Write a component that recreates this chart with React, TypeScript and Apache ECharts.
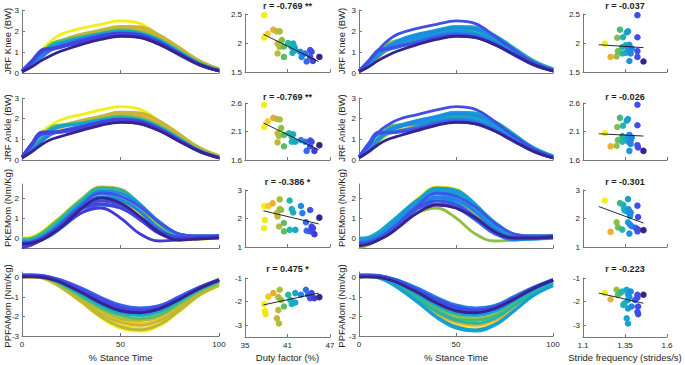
import React, { useEffect, useRef } from "react";
import * as echarts from "echarts";

// ---------- DATA ----------
const stance = [0, 5, 10, 15, 20, 30, 40, 50, 60, 70, 80, 90, 100];

// JRF Knee curves (BW) sampled at stance %
const kneeCurves = [
  [0.1, 0.55, 1.1, 1.55, 1.85, 2.12, 2.32, 2.48, 2.35, 1.75, 1.1, 0.5, 0.15],
  [0.1, 0.4, 0.8, 1.2, 1.45, 1.75, 2.0, 2.2, 2.15, 1.75, 1.15, 0.55, 0.2],
  [0.1, 0.45, 0.9, 1.3, 1.5, 1.8, 2.05, 2.22, 2.2, 1.8, 1.2, 0.6, 0.2],
  [0.1, 0.4, 0.85, 1.25, 1.55, 1.85, 2.0, 2.15, 2.05, 1.65, 1.05, 0.5, 0.15],
  [0.1, 0.4, 0.8, 1.15, 1.45, 1.75, 1.95, 2.1, 2.05, 1.7, 1.15, 0.55, 0.2],
  [0.1, 0.45, 0.85, 1.25, 1.5, 1.8, 2.0, 2.15, 2.1, 1.72, 1.1, 0.5, 0.15],
  [0.1, 0.45, 0.95, 1.4, 1.55, 1.72, 1.9, 2.05, 1.95, 1.6, 1.05, 0.5, 0.15],
  [0.1, 0.4, 0.85, 1.25, 1.45, 1.7, 1.88, 2.0, 1.9, 1.55, 1.0, 0.45, 0.15],
  [0.1, 0.4, 0.85, 1.3, 1.45, 1.65, 1.85, 1.98, 1.88, 1.52, 0.98, 0.45, 0.12],
  [0.1, 0.35, 0.75, 1.1, 1.35, 1.6, 1.8, 1.92, 1.85, 1.5, 0.95, 0.42, 0.12],
  [0.1, 0.6, 1.1, 1.2, 1.3, 1.5, 1.72, 1.85, 1.75, 1.4, 0.9, 0.4, 0.1],
  [0.1, 0.55, 1.05, 1.15, 1.25, 1.45, 1.68, 1.8, 1.7, 1.35, 0.85, 0.38, 0.1],
  [0.1, 0.5, 0.95, 1.1, 1.22, 1.48, 1.7, 1.85, 1.78, 1.42, 0.9, 0.4, 0.1],
  [0.1, 0.55, 1.1, 1.18, 1.25, 1.5, 1.75, 1.88, 1.8, 1.45, 0.92, 0.42, 0.12],
  [0.05, 0.3, 0.6, 0.85, 1.05, 1.35, 1.6, 1.75, 1.68, 1.35, 0.88, 0.4, 0.1],
  [0.1, 0.5, 1.0, 1.15, 1.28, 1.55, 1.78, 1.9, 1.82, 1.45, 0.92, 0.42, 0.1],
];
const kneeCurveDuty = [37.7, 39.0, 39.5, 39.6, 37.8, 38.2, 40.5, 41.6, 42.3, 43.2, 43.0, 44.2, 43.7, 44.6, 45.5, 44.4];
const kneeCurveStride = [1.424, 1.36, 1.338, 1.37, 1.32, 1.384, 1.3, 1.354, 1.376, 1.264, 1.41, 1.424, 1.368, 1.39, 1.46, 1.348];

// JRF Ankle curves (BW)
const ankleCurves = [
  [0.15, 0.7, 1.35, 1.7, 1.95, 2.2, 2.42, 2.58, 2.45, 1.85, 1.15, 0.55, 0.15],
  [0.15, 0.5, 0.95, 1.4, 1.6, 1.85, 2.1, 2.3, 2.25, 1.85, 1.2, 0.6, 0.2],
  [0.15, 0.55, 1.05, 1.45, 1.62, 1.9, 2.12, 2.32, 2.28, 1.88, 1.25, 0.6, 0.2],
  [0.15, 0.5, 1.0, 1.4, 1.65, 1.92, 2.08, 2.2, 2.1, 1.7, 1.1, 0.5, 0.15],
  [0.15, 0.5, 0.95, 1.3, 1.55, 1.82, 2.02, 2.18, 2.12, 1.75, 1.18, 0.55, 0.2],
  [0.15, 0.55, 1.0, 1.4, 1.6, 1.88, 2.08, 2.25, 2.18, 1.78, 1.15, 0.52, 0.15],
  [0.15, 0.55, 1.1, 1.6, 1.7, 1.8, 1.98, 2.12, 2.0, 1.62, 1.05, 0.5, 0.15],
  [0.15, 0.5, 1.0, 1.5, 1.68, 1.78, 1.95, 2.05, 1.95, 1.58, 1.02, 0.45, 0.15],
  [0.15, 0.5, 1.0, 1.45, 1.62, 1.75, 1.92, 2.02, 1.92, 1.55, 1.0, 0.45, 0.12],
  [0.15, 0.45, 0.9, 1.25, 1.42, 1.65, 1.85, 1.98, 1.9, 1.52, 0.98, 0.42, 0.12],
  [0.15, 0.8, 1.35, 1.35, 1.38, 1.55, 1.78, 1.9, 1.8, 1.45, 0.95, 0.45, 0.12],
  [0.15, 0.75, 1.3, 1.32, 1.35, 1.5, 1.72, 1.85, 1.75, 1.4, 0.9, 0.4, 0.1],
  [0.15, 0.7, 1.25, 1.3, 1.35, 1.55, 1.78, 1.92, 1.82, 1.45, 0.92, 0.42, 0.1],
  [0.15, 0.8, 1.35, 1.36, 1.4, 1.58, 1.82, 1.95, 1.85, 1.48, 0.95, 0.44, 0.12],
  [0.1, 0.4, 0.75, 1.0, 1.15, 1.42, 1.68, 1.82, 1.75, 1.4, 0.9, 0.42, 0.1],
  [0.15, 0.7, 1.25, 1.3, 1.38, 1.6, 1.85, 1.97, 1.88, 1.5, 0.95, 0.44, 0.1],
];
const ankleCurveDuty = [37.7, 39.0, 39.5, 39.6, 37.8, 38.2, 40.5, 41.6, 42.3, 43.2, 43.0, 44.2, 43.7, 44.6, 45.5, 44.4];
const ankleCurveStride = [1.424, 1.36, 1.338, 1.37, 1.32, 1.384, 1.3, 1.354, 1.376, 1.264, 1.41, 1.424, 1.368, 1.39, 1.46, 1.348];

// Peak knee extension moment curves (Nm/Kg)
const pkemCurves = [
  [-0.1, -0.05, 0.2, 0.6, 1.05, 1.95, 2.55, 2.45, 1.55, 0.5, 0.05, 0.0, 0.05],
  [-0.15, -0.1, 0.1, 0.45, 0.9, 1.85, 2.5, 2.4, 1.7, 0.7, 0.15, 0.1, 0.1],
  [0.0, 0.05, 0.3, 0.7, 1.1, 1.9, 2.4, 2.15, 1.35, 0.45, 0.0, -0.05, 0.0],
  [-0.05, 0.0, 0.2, 0.55, 0.95, 1.75, 2.35, 2.3, 1.55, 0.55, 0.05, 0.0, 0.05],
  [-0.1, -0.1, 0.1, 0.4, 0.75, 1.5, 1.95, 1.8, 1.2, 0.4, 0.0, 0.0, 0.05],
  [-0.2, -0.15, 0.0, 0.35, 0.8, 1.7, 2.35, 2.25, 1.65, 0.8, 0.2, 0.1, 0.1],
  [-0.3, -0.2, -0.05, 0.3, 0.7, 1.6, 2.25, 2.1, 1.55, 0.75, 0.2, 0.1, 0.1],
  [-0.4, -0.3, -0.1, 0.15, 0.5, 1.25, 1.65, 1.5, 1.0, 0.3, 0.0, 0.0, 0.05],
  [-0.5, -0.35, -0.1, 0.2, 0.55, 1.25, 1.5, 1.0, 0.2, -0.15, -0.1, 0.0, 0.05],
  [-0.3, -0.25, -0.1, 0.2, 0.55, 1.45, 2.0, 1.75, 1.05, 0.25, -0.1, -0.05, 0.0],
  [-0.25, -0.2, 0.0, 0.3, 0.65, 1.5, 1.85, 1.65, 1.05, 0.35, 0.05, 0.05, 0.1],
  [-0.1, -0.05, 0.15, 0.5, 0.95, 1.8, 2.2, 2.0, 1.35, 0.45, 0.05, 0.05, 0.1],
  [-0.05, 0.0, 0.25, 0.65, 1.05, 1.85, 2.25, 2.05, 1.3, 0.4, 0.0, 0.0, 0.05],
  [-0.2, -0.15, 0.05, 0.35, 0.75, 1.6, 2.05, 1.9, 1.3, 0.45, 0.05, 0.05, 0.1],
  [-0.1, -0.05, 0.15, 0.55, 1.0, 1.85, 2.45, 2.3, 1.6, 0.6, 0.1, 0.05, 0.1],
  [-0.3, -0.25, -0.05, 0.25, 0.6, 1.45, 1.7, 1.5, 0.9, 0.2, -0.05, 0.0, 0.05],
];
const pkemCurveDuty = [39.9, 41.3, 37.7, 38.9, 37.8, 42.9, 44.2, 43.7, 44.8, 45.5, 44.4, 41.6, 40.5, 43.1, 38.3, 44.6];
const pkemCurveStride = [1.23, 1.368, 1.36, 1.34, 1.264, 1.344, 1.42, 1.46, 1.3, 1.384, 1.424, 1.376, 1.308, 1.39, 1.37, 1.41];

// Peak plantar-flexor ankle moment curves (Nm/Kg)
const ppfamCurves = [
  [0.05, 0.05, 0.0, -0.22, -0.52, -1.25, -2.05, -2.6, -2.75, -2.45, -1.72, -0.92, -0.42],
  [0.05, 0.05, 0.0, -0.2, -0.48, -1.2, -1.95, -2.45, -2.6, -2.35, -1.65, -0.88, -0.38],
  [0.05, 0.1, 0.04, -0.15, -0.42, -1.1, -1.75, -2.2, -2.35, -2.1, -1.45, -0.78, -0.3],
  [0.05, 0.05, 0.0, -0.18, -0.45, -1.15, -1.85, -2.3, -2.45, -2.2, -1.55, -0.82, -0.32],
  [0.1, 0.1, 0.05, -0.1, -0.35, -0.95, -1.55, -1.95, -2.1, -1.9, -1.3, -0.68, -0.22],
  [0.1, 0.1, 0.05, -0.08, -0.3, -0.88, -1.45, -1.85, -1.95, -1.75, -1.2, -0.62, -0.18],
  [0.1, 0.1, 0.06, -0.06, -0.25, -0.8, -1.35, -1.75, -1.88, -1.7, -1.15, -0.6, -0.15],
  [0.15, 0.15, 0.12, 0.02, -0.12, -0.55, -1.05, -1.45, -1.58, -1.45, -0.98, -0.5, -0.1],
  [0.1, 0.12, 0.1, -0.02, -0.18, -0.65, -1.15, -1.55, -1.7, -1.55, -1.05, -0.55, -0.12],
  [0.1, 0.1, 0.08, -0.05, -0.22, -0.72, -1.25, -1.65, -1.78, -1.6, -1.1, -0.55, -0.12],
  [0.05, 0.05, 0.02, -0.08, -0.25, -0.75, -1.3, -1.7, -1.8, -1.58, -1.1, -0.55, -0.12],
  [0.15, 0.15, 0.12, 0.02, -0.12, -0.52, -1.0, -1.4, -1.55, -1.42, -0.95, -0.48, -0.08],
  [0.1, 0.1, 0.04, -0.12, -0.38, -1.02, -1.65, -2.1, -2.2, -1.98, -1.38, -0.72, -0.25],
  [0.05, 0.08, 0.02, -0.2, -0.5, -1.22, -2.0, -2.52, -2.68, -2.4, -1.68, -0.9, -0.4],
  [0.12, 0.12, 0.1, 0.0, -0.15, -0.6, -1.1, -1.5, -1.65, -1.5, -1.02, -0.5, -0.1],
  [0.1, 0.1, 0.08, -0.04, -0.2, -0.7, -1.2, -1.6, -1.72, -1.55, -1.05, -0.52, -0.1],
];
const ppfamCurveDuty = [37.7, 37.9, 38.3, 39.5, 40.5, 41.6, 42.1, 43.6, 44.2, 44.8, 45.5, 43.9, 39.9, 39.7, 44.4, 43.0];
const ppfamCurveStride = [1.36, 1.23, 1.334, 1.264, 1.3, 1.348, 1.376, 1.384, 1.424, 1.41, 1.46, 1.39, 1.32, 1.368, 1.428, 1.37];

// Scatter: duty factor (%) vs outcome
const kneeDuty = [[37.7,2.48],[37.7,2.09],[38.2,2.16],[39.0,2.23],[39.5,2.2],[39.9,2.2],[39.6,1.99],[39.6,1.82],[39.9,1.93],[40.2,2.05],[40.5,1.94],[40.5,1.76],[41.1,2.0],[41.6,1.93],[41.8,1.99],[42.0,1.93],[41.7,1.83],[42.1,1.88],[42.8,1.85],[43.0,1.76],[43.5,1.82],[44.2,1.88],[44.4,1.85],[43.7,1.68],[44.2,1.76],[44.6,1.69],[45.5,1.76]];
const ankleDuty = [[37.7,2.57],[37.7,2.18],[38.2,2.28],[39.0,2.34],[39.5,2.32],[39.9,2.31],[39.6,2.07],[39.6,1.91],[40.1,2.16],[39.8,2.02],[40.5,1.84],[40.5,2.04],[41.2,2.07],[41.6,2.01],[41.8,2.05],[41.6,1.92],[42.1,1.92],[42.9,1.95],[43.5,1.92],[44.2,1.94],[44.4,1.92],[43.7,1.76],[44.2,1.84],[44.8,1.76],[45.5,1.86]];
const pkemDuty = [[37.7,2.44],[37.8,1.95],[37.7,1.66],[38.3,2.44],[38.9,2.53],[39.5,2.19],[39.6,2.07],[39.9,2.67],[39.9,2.33],[40.1,2.3],[39.8,1.72],[40.5,1.84],[40.5,1.55],[41.3,2.63],[41.6,2.33],[41.8,2.21],[41.3,1.6],[42.1,1.6],[42.9,2.44],[43.1,2.19],[44.2,2.3],[43.6,1.87],[43.7,1.57],[44.2,1.55],[44.4,1.72],[44.6,1.66],[44.8,1.45],[45.5,2.03]];
const ppfamDuty = [[37.7,-2.1],[37.8,-2.4],[37.9,-2.53],[38.3,-1.79],[39.0,-1.64],[39.5,-2.71],[39.8,-2.93],[39.7,-2.36],[39.7,-1.81],[39.9,-1.5],[40.1,-1.93],[40.5,-2.21],[41.1,-1.71],[41.4,-1.93],[41.7,-2.04],[41.6,-2.1],[42.1,-2.04],[42.1,-1.64],[42.9,-1.71],[43.6,-1.5],[43.9,-1.71],[44.2,-1.86],[44.4,-1.64],[44.8,-1.86],[45.5,-1.81]];
const kneeDutyFit = [[37.6,2.15],[45.4,1.68]];
const ankleDutyFit = [[37.6,2.25],[45.4,1.78]];
const pkemDutyFit = [[37.6,2.27],[45.4,1.81]];
const ppfamDutyFit = [[37.6,-2.14],[45.4,-1.64]];
const dutyR = ["r = -0.769 **", "r = -0.769 **", "r = -0.386 *", "r = 0.475 *"];

// Scatter: stride frequency (strides/s) vs outcome
const kneeStride = [[1.23,1.99],[1.264,1.76],[1.3,1.77],[1.308,1.86],[1.304,2.09],[1.32,2.23],[1.338,2.1],[1.334,1.93],[1.334,1.82],[1.354,1.83],[1.36,2.18],[1.368,2.2],[1.354,1.96],[1.37,1.93],[1.376,1.97],[1.368,1.88],[1.38,1.86],[1.39,1.9],[1.376,1.69],[1.384,1.82],[1.424,2.48],[1.424,2.1],[1.424,1.86],[1.424,1.76],[1.46,1.68]];
const ankleStride = [[1.23,2.07],[1.264,1.84],[1.3,1.85],[1.308,1.95],[1.304,2.18],[1.32,2.34],[1.338,2.2],[1.334,2.02],[1.334,1.92],[1.36,2.29],[1.368,2.32],[1.354,1.96],[1.368,2.01],[1.376,2.04],[1.37,1.92],[1.384,1.95],[1.39,2.0],[1.376,1.76],[1.384,1.88],[1.424,2.57],[1.424,2.21],[1.424,1.86],[1.428,1.82],[1.46,1.76]];
const pkemStride = [[1.23,2.63],[1.264,1.53],[1.3,1.87],[1.308,1.69],[1.334,1.61],[1.32,2.54],[1.34,2.48],[1.344,2.36],[1.348,2.28],[1.36,2.25],[1.368,2.68],[1.37,2.33],[1.376,2.25],[1.384,2.21],[1.38,2.1],[1.368,1.87],[1.38,1.79],[1.39,1.73],[1.376,1.47],[1.414,1.67],[1.424,2.45],[1.428,2.05],[1.428,1.61],[1.424,1.55],[1.46,1.59]];
const ppfamStride = [[1.23,-1.64],[1.264,-1.9],[1.3,-1.5],[1.308,-1.71],[1.32,-1.64],[1.334,-1.57],[1.34,-2.14],[1.348,-2.07],[1.36,-1.5],[1.368,-1.71],[1.368,-1.93],[1.376,-1.81],[1.384,-1.57],[1.368,-2.29],[1.36,-2.71],[1.368,-2.93],[1.39,-2.21],[1.41,-1.93],[1.424,-1.71],[1.424,-1.83],[1.428,-2.21],[1.424,-2.43],[1.428,-2.53],[1.46,-1.71]];
const kneeStrideFit = [[1.194,1.97],[1.46,1.92]];
const ankleStrideFit = [[1.194,2.06],[1.46,2.02]];
const pkemStrideFit = [[1.194,2.42],[1.46,1.84]];
const ppfamStrideFit = [[1.194,-1.64],[1.46,-2.07]];
const strideR = ["r = -0.037", "r = -0.026", "r = -0.301", "r = -0.223"];

const rowNames = ["JRF Knee (BW)", "JRF Ankle (BW)", "PKEMom (Nm/Kg)", "PPFAMom (Nm/Kg)"];
const stanceTicks = [0, 50, 100];
const dutyTicks = [35, 41, 47];
const strideTicks = [1.1, 1.35, 1.6];
const lineYTicks = [[0, 1, 2, 3], [0, 1, 2, 3], [0, 1, 2], [-3, -2, -1, 0]];
const scatYTicks = [[1.5, 2, 2.5], [1.6, 2.1, 2.6], [1, 2, 3], [-3, -2, -1]];

// ---------- STYLE / LAYOUT ----------
const FONT = '"Liberation Sans", Arial, Helvetica, sans-serif';
const AX = "#777777";
const TXT = "#1e1e1e";
const dutyRange = [37.7, 45.5];
const strideRange = [1.23, 1.46];

const lineCols = [{ left: 22, width: 197 }, { left: 359, width: 194 }];
const scatCols = [{ left: 245, width: 85 }, { left: 583, width: 84 }];
const lineRows = [
  { top: 10, height: 63, min: 0, max: 3 },
  { top: 98, height: 62, min: 0, max: 3 },
  { top: 184, height: 64, min: -0.5, max: 2.7 },
  { top: 272, height: 64, min: -3, max: 0.3 },
];
const scatRows = [
  { top: 14, height: 58, min: 1.5, max: 2.5 },
  { top: 103, height: 57, min: 1.6, max: 2.6 },
  { top: 190, height: 57, min: 1, max: 3 },
  { top: 278, height: 59, min: -3.5, max: -1 },
];
const titleY = [6, 97, 182, 269];
const nameY = [41, 128, 208, 306];

const STOPS: [number, number[]][] = [
  [0.0, [55, 35, 140]],
  [0.1, [70, 60, 220]],
  [0.2, [60, 95, 240]],
  [0.32, [30, 135, 230]],
  [0.45, [20, 172, 200]],
  [0.58, [45, 185, 150]],
  [0.65, [100, 190, 90]],
  [0.72, [170, 190, 60]],
  [0.83, [236, 168, 55]],
  [0.92, [246, 200, 40]],
  [1.0, [245, 238, 20]],
];
function parula(t: number) {
  t = Math.max(0, Math.min(1, t));
  for (let i = 1; i < STOPS.length; i++) {
    if (t <= STOPS[i][0]) {
      const [t0, c0] = STOPS[i - 1];
      const [t1, c1] = STOPS[i];
      const f = (t - t0) / (t1 - t0);
      const c = c0.map((v, k) => Math.round(v + (c1[k] - v) * f));
      return `rgb(${c[0]},${c[1]},${c[2]})`;
    }
  }
  return "rgb(245,238,20)";
}
const colorFor = (v: number, r: number[]) => parula((r[1] - v) / (r[1] - r[0]));

export default function App() {
  const ref = useRef<HTMLDivElement>(null);
  useEffect(() => {
    const chart = echarts.init(ref.current!, null, { renderer: "svg" });
    const grid: any[] = [];
    const xAxis: any[] = [];
    const yAxis: any[] = [];
    const series: any[] = [];
    const graphic: any[] = [];

    const mkAxis = (kind: "x" | "y", gi: number, min: number, max: number, ticks: number[], showLabel: boolean) => ({
      type: "value",
      gridIndex: gi,
      min,
      max,
      axisLine: { show: true, onZero: false, lineStyle: { color: AX, width: 1 } },
      axisTick: { show: true, inside: true, length: 3, customValues: ticks, lineStyle: { color: AX, width: 1 } },
      axisLabel: {
        show: showLabel,
        customValues: ticks,
        fontSize: 8,
        color: TXT,
        fontFamily: FONT,
        margin: kind === "x" ? 4 : 3,
        hideOverlap: false,
        showMinLabel: true,
        showMaxLabel: true,
      },
      splitLine: { show: false },
    });

    const curveRows = [
      { curves: kneeCurves, duty: kneeCurveDuty, stride: kneeCurveStride },
      { curves: ankleCurves, duty: ankleCurveDuty, stride: ankleCurveStride },
      { curves: pkemCurves, duty: pkemCurveDuty, stride: pkemCurveStride },
      { curves: ppfamCurves, duty: ppfamCurveDuty, stride: ppfamCurveStride },
    ];
    const dutyScat = [
      { pts: kneeDuty, fit: kneeDutyFit },
      { pts: ankleDuty, fit: ankleDutyFit },
      { pts: pkemDuty, fit: pkemDutyFit },
      { pts: ppfamDuty, fit: ppfamDutyFit },
    ];
    const strideScat = [
      { pts: kneeStride, fit: kneeStrideFit },
      { pts: ankleStride, fit: ankleStrideFit },
      { pts: pkemStride, fit: pkemStrideFit },
      { pts: ppfamStride, fit: ppfamStrideFit },
    ];

    for (let r = 0; r < 4; r++) {
      const last = r === 3;
      for (let c = 0; c < 4; c++) {
        const gi = r * 4 + c;
        const isLine = c % 2 === 0;
        const col = isLine ? lineCols[c / 2] : scatCols[(c - 1) / 2];
        const row = isLine ? lineRows[r] : scatRows[r];
        grid.push({ left: col.left, top: row.top, width: col.width, height: row.height, containLabel: false });
        if (isLine) {
          xAxis.push(mkAxis("x", gi, 0, 100, stanceTicks, last));
          yAxis.push(mkAxis("y", gi, row.min, row.max, lineYTicks[r], true));
          const cr = curveRows[r];
          const vals = c === 0 ? cr.duty : cr.stride;
          const range = c === 0 ? dutyRange : strideRange;
          const order = vals.map((_, i) => i).sort((a, b) => vals[a] - vals[b]);
          for (const i of order) {
            series.push({
              type: "line",
              xAxisIndex: gi,
              yAxisIndex: gi,
              data: stance.map((s, k) => [s, cr.curves[i][k]]),
              smooth: 0.4,
              symbol: "none",
              silent: true,
              lineStyle: { width: 2.8, color: colorFor(vals[i], range) },
              z: 2,
            });
          }
        } else {
          const isDuty = c === 1;
          xAxis.push(mkAxis("x", gi, isDuty ? 35 : 1.1, isDuty ? 47 : 1.6, isDuty ? dutyTicks : strideTicks, last));
          yAxis.push(mkAxis("y", gi, row.min, row.max, scatYTicks[r], true));
          const sc = isDuty ? dutyScat[r] : strideScat[r];
          const range = isDuty ? dutyRange : strideRange;
          series.push({
            type: "scatter",
            xAxisIndex: gi,
            yAxisIndex: gi,
            symbolSize: 6.5,
            silent: true,
            data: sc.pts.map(([x, y]) => ({ value: [x, y], itemStyle: { color: colorFor(x, range), opacity: 1 } })),
            z: 2,
          });
          series.push({
            type: "line",
            xAxisIndex: gi,
            yAxisIndex: gi,
            data: sc.fit,
            symbol: "none",
            silent: true,
            lineStyle: { color: "#111", width: 0.9 },
            z: 3,
          });
          graphic.push({
            type: "text",
            x: col.left + col.width / 2,
            y: titleY[r],
            style: {
              text: isDuty ? dutyR[r] : strideR[r],
              font: `bold 9px ${FONT}`,
              fill: TXT,
              align: "center",
              verticalAlign: "middle",
              textAlign: "center",
              textVerticalAlign: "middle",
            },
          });
        }
      }
      for (const x of [7, 341]) {
        graphic.push({
          type: "text",
          x,
          y: nameY[r],
          rotation: Math.PI / 2,
          style: {
            text: rowNames[r],
            font: `9.5px ${FONT}`,
            fill: TXT,
            align: "center",
            verticalAlign: "middle",
            textAlign: "center",
            textVerticalAlign: "middle",
          },
        });
      }
    }
    const xNames = [
      { text: "% Stance Time", x: 120.5 },
      { text: "Duty factor (%)", x: 287.5 },
      { text: "% Stance Time", x: 456 },
      { text: "Stride frequency (strides/s)", x: 625 },
    ];
    for (const n of xNames) {
      graphic.push({
        type: "text",
        x: n.x,
        y: 357,
        style: {
          text: n.text,
          font: `9.5px ${FONT}`,
          fill: TXT,
          align: "center",
          verticalAlign: "middle",
          textAlign: "center",
          textVerticalAlign: "middle",
        },
      });
    }

    chart.setOption({
      animation: false,
      backgroundColor: "#ffffff",
      textStyle: { fontFamily: FONT },
      grid,
      xAxis,
      yAxis,
      series,
      graphic,
    });
    return () => chart.dispose();
  }, []);
  return (
    <div
      ref={ref}
      style={{ position: "fixed", left: 0, top: 0, width: 685, height: 365, background: "#fff" }}
    />
  );
}
